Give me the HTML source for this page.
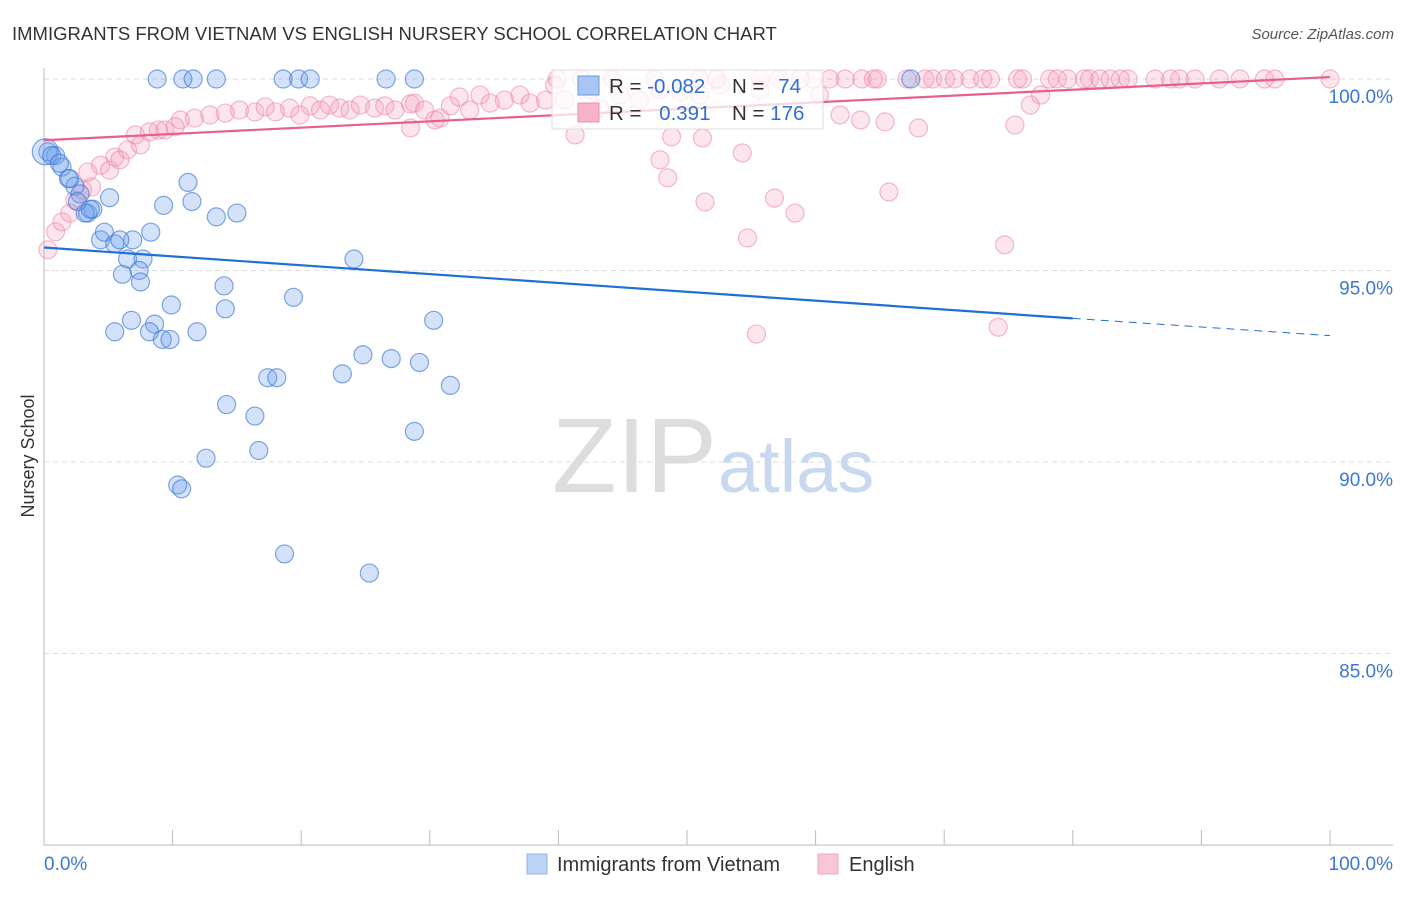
<!DOCTYPE html>
<html><head><meta charset="utf-8"><style>
body{margin:0;background:#fff;font-family:"Liberation Sans",sans-serif}
svg text{font-family:"Liberation Sans",sans-serif}
</style></head><body>
<svg id="chart" width="1406" height="892" viewBox="0 0 1406 892">
<text x="12" y="40" font-size="18.5" fill="#333">IMMIGRANTS FROM VIETNAM VS ENGLISH NURSERY SCHOOL CORRELATION CHART</text>
<text x="1394" y="39" font-size="15" fill="#555" text-anchor="end" font-style="italic">Source: ZipAtlas.com</text>
<text x="34" y="456" font-size="18" fill="#333" text-anchor="middle" transform="rotate(-90 34 456)">Nursery School</text>
<g id="grid"></g>
<g id="axes"></g>
<text x="552" y="492" font-size="106" fill="#ddd" font-family="Liberation Serif">ZIP</text>
<text x="718" y="492" font-size="74" fill="#c8d8f0">atlas</text>
<g id="pinkPts"></g>
<g id="bluePts"></g>
<g id="lines"></g>
<g>
<rect x="552" y="70" width="271" height="59" fill="#fff" fill-opacity="0.75" stroke="#ddd"/>
<rect x="578" y="76" width="21" height="19" fill="#a9c6f2" stroke="#6b9ae0"/>
<rect x="578" y="103" width="21" height="19" fill="#f6b3c7" stroke="#ee8fab"/>
<text x="609" y="93" font-size="20.5" fill="#333">R = <tspan fill="#2f6fd3">-0.082</tspan></text>
<text x="732" y="93" font-size="20.5" fill="#333">N = <tspan fill="#2f6fd3" dx="8">74</tspan></text>
<text x="609" y="120" font-size="20.5" fill="#333">R = <tspan fill="#2f6fd3" dx="12">0.391</tspan></text>
<text x="732" y="120" font-size="20.5" fill="#333">N = <tspan fill="#2f6fd3">176</tspan></text>
</g>
<g>
<rect x="527" y="854" width="20" height="20" fill="#bcd3f5" stroke="#8fb3ea"/>
<text x="557" y="871" font-size="20" fill="#333">Immigrants from Vietnam</text>
<rect x="818" y="854" width="20" height="20" fill="#f9c6d5" stroke="#f0a5bd"/>
<text x="849" y="871" font-size="20" fill="#333">English</text>
</g>
</svg>
<script>
const yTickValues=[100,95,90,85];
const yTickLabels=["100.0%","95.0%","90.0%","85.0%"];
const xTickLabels=["0.0%","100.0%"];
const blueX=[8.8,10.8,11.6,13.4,18.6,19.8,20.7,26.6,28.8,67.4,0.3,0.9,1.4,1.9,2.4,2.8,3.4,3.8,5.1,3.2,4.4,4.7,5.5,6.9,8.3,6.5,7.7,6.1,7.4,7.5,11.2,11.5,9.3,13.4,15.0,24.1,14.0,9.9,14.1,19.4,6.8,5.5,8.6,8.2,9.2,9.8,11.9,30.3,24.8,27.0,29.2,23.2,17.4,18.1,31.6,14.2,16.4,28.8,16.7,12.6,10.4,10.7,18.7,25.3,0.1,0.6,1.2,2.0,2.6,3.6,5.9];
const blueY=[100,100,100,100,100,100,100,100,100,100,98.1,98.0,97.7,97.4,97.2,97.0,96.5,96.6,96.9,96.5,95.8,96.0,95.7,95.8,96.0,95.3,95.3,94.9,95.0,94.7,97.3,96.8,96.7,96.4,96.5,95.3,94.6,94.1,94.0,94.3,93.7,93.4,93.6,93.4,93.2,93.2,93.4,93.7,92.8,92.7,92.6,92.3,92.2,92.2,92.0,91.5,91.2,90.8,90.3,90.1,89.4,89.3,87.6,87.1,98.1,98.0,97.8,97.4,96.8,96.6,95.8];
const pinkX=[39.9,41.8,44.2,47.5,51.0,52.3,55.7,57.2,58.8,59.9,61.1,62.3,63.6,64.5,64.8,67.1,68.5,69.1,70.1,70.8,72.0,73.0,73.6,75.7,76.1,78.2,78.8,79.6,80.9,81.3,82.1,82.9,83.7,84.3,86.4,87.6,88.3,89.5,91.4,93.0,94.9,95.7,100,
10.6,11.7,12.9,14.1,15.2,16.4,17.2,18.0,19.1,19.9,20.7,21.5,22.2,23.0,23.8,24.6,25.7,26.5,27.3,28.5,28.8,29.6,30.8,31.6,32.3,33.1,33.9,34.7,35.8,37.0,37.8,39.0,39.7,40.5,41.3,42.5,43.2,44.8,46.3,47.9,49.5,51.0,52.6,55.7,60.3,61.9,63.5,65.4,68.0,76.7,77.5,28.5,30.4,48.8,51.2,54.3,47.9,48.5,51.4,56.8,58.4,54.7,65.7,74.7,55.4,74.2,75.5,
0.3,0.9,1.4,2.0,2.4,3.0,3.7,3.4,4.4,5.1,5.5,6.5,7.1,7.5,8.2,8.9,9.4,10.2,5.9];
const pinkY=[100,100,100,100,100,100,100,100,100,100,100,100,100,100,100,100,100,100,100,100,100,100,100,100,100,100,100,100,100,100,100,100,100,100,100,100,100,100,100,100,100,100,100,
98.93,98.98,99.06,99.11,99.19,99.14,99.27,99.14,99.24,99.06,99.30,99.19,99.32,99.24,99.19,99.32,99.24,99.30,99.19,99.35,99.37,99.19,98.98,99.30,99.53,99.19,99.58,99.37,99.45,99.58,99.37,99.45,99.84,99.45,98.54,99.71,99.24,99.58,99.45,99.71,99.66,99.58,99.84,99.71,99.58,99.06,98.93,98.88,98.72,99.32,99.58,98.72,98.93,98.49,98.46,98.07,97.89,97.42,96.79,96.89,96.50,95.85,97.05,95.67,93.34,93.52,98.80,
95.54,96.01,96.27,96.50,96.84,97.10,97.18,97.57,97.75,97.62,97.96,98.15,98.54,98.28,98.62,98.67,98.67,98.75,97.89];
const blueTrend=[95.6,93.75,93.3];
const pinkTrend=[98.4,100.05];
const NS="http://www.w3.org/2000/svg";
const X=v=>44+v*12.86;
const Y=v=>845-(v-80)*38.3;
function mk(tag,attrs,parent){const e=document.createElementNS(NS,tag);for(const k in attrs)e.setAttribute(k,attrs[k]);parent.appendChild(e);return e;}
const grid=document.getElementById('grid'),axes=document.getElementById('axes');
yTickValues.forEach((v,i)=>{
 const l=mk('line',{x1:44,x2:1393,y1:Y(v),y2:Y(v),stroke:'#ddd','stroke-dasharray':'5,4'},grid);
 
 
 const t=mk('text',{x:1393,y:Y(v)+24,'font-size':19,fill:'#3a78d8','text-anchor':'end'},axes);
 t.textContent=yTickLabels[i];
 
 
});
mk('line',{x1:44,x2:44,y1:68,y2:845,stroke:'#bbb'},axes);
mk('line',{x1:44,x2:1393,y1:845,y2:845,stroke:'#bbb'},axes);
for(let i=0;i<=10;i++){const t=mk('line',{x1:X(i*10),x2:X(i*10),y1:830,y2:845,stroke:'#bbb'},axes);
 
 }
[[0,'start',44],[1,'end',1393]].forEach(([i,a,x])=>{const t=mk('text',{x:x,y:870,'font-size':19,fill:'#3a78d8','text-anchor':a},axes);t.textContent=xTickLabels[i];
 
 });
const pg=document.getElementById('pinkPts');
pinkX.forEach((x,i)=>{const c=mk('circle',{cx:X(x),cy:Y(pinkY[i]),r:9,fill:'rgba(244,150,180,0.25)',stroke:'rgba(236,130,165,0.55)','stroke-width':1.2},pg);
 
 });
const bg=document.getElementById('bluePts');
blueX.forEach((x,i)=>{const c=mk('circle',{cx:X(x),cy:Y(blueY[i]),r:(i==64?13:9),fill:'rgba(110,160,235,0.3)',stroke:'rgba(60,120,215,0.65)','stroke-width':1.2},bg);
 
 });
const lg=document.getElementById('lines');
const b1=mk('line',{x1:X(0),y1:Y(blueTrend[0]),x2:X(80),y2:Y(blueTrend[1]),stroke:'#1f6fd6','stroke-width':2.2},lg);


const b2=mk('line',{x1:X(80),y1:Y(blueTrend[1]),x2:X(100),y2:Y(blueTrend[2]),stroke:'#1f6fd6','stroke-width':1,'stroke-dasharray':'8,6'},lg);


const p1=mk('line',{x1:X(0),y1:Y(pinkTrend[0]),x2:X(100),y2:Y(pinkTrend[1]),stroke:'#e8608a','stroke-width':2.2},lg);


</script>
</body></html>
